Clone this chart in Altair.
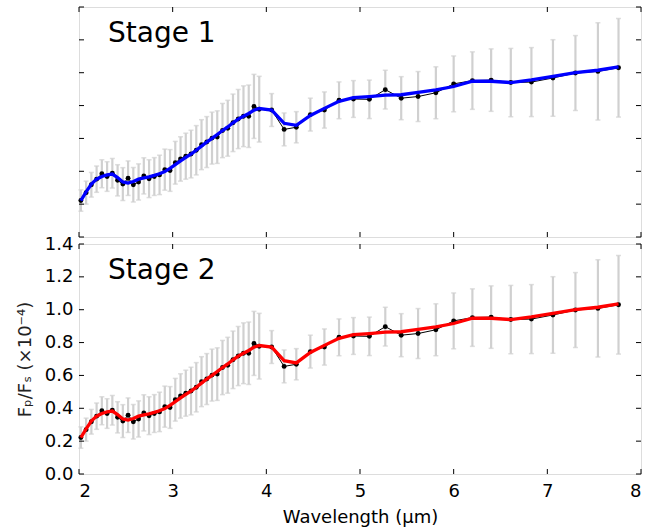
import altair as alt
import pandas as pd

# ---- data ----
wavelength = [2.020, 2.076, 2.132, 2.188, 2.244, 2.300, 2.356, 2.412, 2.468, 2.524,
              2.580, 2.636, 2.692, 2.748, 2.804, 2.860, 2.916, 2.972, 3.028, 3.084,
              3.140, 3.196, 3.252, 3.308, 3.364, 3.420, 3.476, 3.532, 3.588, 3.644,
              3.700, 3.756, 3.812, 3.868, 3.924,
              4.057, 4.190, 4.320, 4.470, 4.620, 4.776, 4.930, 5.100, 5.270, 5.440,
              5.620, 5.810, 6.000, 6.200, 6.400, 6.610, 6.830, 7.060, 7.300, 7.540, 7.760]
flux = [0.222, 0.270, 0.318, 0.352, 0.385, 0.368, 0.388, 0.345, 0.322, 0.358,
        0.318, 0.335, 0.372, 0.355, 0.368, 0.378, 0.410, 0.405, 0.452, 0.475,
        0.492, 0.505, 0.528, 0.562, 0.578, 0.602, 0.608, 0.648, 0.662, 0.695,
        0.718, 0.735, 0.735, 0.795, 0.778,
        0.773, 0.655, 0.668, 0.745, 0.773, 0.832, 0.840, 0.838, 0.897, 0.845,
        0.855, 0.878, 0.932, 0.952, 0.955, 0.940, 0.943, 0.968, 0.998, 1.008, 1.030]
flux_err = [0.065, 0.070, 0.075, 0.080, 0.085, 0.090, 0.090, 0.095, 0.100, 0.105,
            0.105, 0.110, 0.110, 0.115, 0.115, 0.120, 0.125, 0.127, 0.130, 0.135,
            0.140, 0.145, 0.150, 0.152, 0.155, 0.158, 0.160, 0.165, 0.170, 0.175,
            0.180, 0.185, 0.190, 0.195, 0.200,
            0.100, 0.100, 0.095, 0.100, 0.110, 0.112, 0.112, 0.117, 0.118, 0.131,
            0.152, 0.158, 0.170, 0.175, 0.190, 0.208, 0.210, 0.233, 0.228, 0.296, 0.300]
model_stage1 = [0.222, 0.275, 0.322, 0.352, 0.368, 0.378, 0.383, 0.362, 0.335, 0.328,
                0.338, 0.352, 0.360, 0.366, 0.375, 0.385, 0.398, 0.418, 0.440, 0.463,
                0.485, 0.505, 0.528, 0.553, 0.578, 0.600, 0.624, 0.648, 0.670, 0.695,
                0.718, 0.735, 0.752, 0.772, 0.782,
                0.772, 0.692, 0.680, 0.740, 0.783, 0.826, 0.848, 0.855, 0.863, 0.866,
                0.880, 0.896, 0.916, 0.948, 0.948, 0.940, 0.956, 0.978, 1.000, 1.015, 1.035]
model_stage2 = [0.222, 0.275, 0.322, 0.352, 0.368, 0.378, 0.383, 0.362, 0.335, 0.328,
                0.338, 0.352, 0.360, 0.366, 0.375, 0.385, 0.398, 0.418, 0.440, 0.463,
                0.485, 0.505, 0.528, 0.553, 0.578, 0.600, 0.624, 0.648, 0.670, 0.695,
                0.718, 0.735, 0.752, 0.772, 0.782,
                0.772, 0.690, 0.676, 0.740, 0.783, 0.826, 0.848, 0.855, 0.863, 0.866,
                0.880, 0.896, 0.916, 0.948, 0.948, 0.940, 0.956, 0.978, 1.000, 1.015, 1.035]
stage_labels = ["Stage 1", "Stage 2"]
model_colors = ["#0000ff", "#ff0000"]
x_ticks = [2, 3, 4, 5, 6, 7, 8]
y_ticks = [0.0, 0.2, 0.4, 0.6, 0.8, 1.0, 1.2, 1.4]
x_title = "Wavelength (μm)"
y_title = "Fₚ/Fₛ (×10⁻⁴)"
label_pos = (2.31, 1.19)

W, H = 562, 230
FONT = "DejaVu Sans"

df = pd.DataFrame({
    "wl": wavelength,
    "flux": flux,
    "lo": [f - e for f, e in zip(flux, flux_err)],
    "hi": [f + e for f, e in zip(flux, flux_err)],
    "m1": model_stage1,
    "m2": model_stage2,
})
xt = pd.DataFrame({"t": x_ticks})
yt = pd.DataFrame({"t": y_ticks})

xscale = alt.Scale(domain=[2, 8], nice=False, zero=False)
yscale = alt.Scale(domain=[0, 1.4], nice=False, zero=False)


def panel(model_col, color, label, show_labels):
    if show_labels:
        xaxis = alt.Axis(values=x_ticks, format="d", ticks=False, tickSize=0, domain=False, grid=False,
                         labelFontSize=18, labelPadding=8, labelFont=FONT,
                         labelColor="black", titleFont=FONT, titleFontSize=18, titleFontWeight="normal",
                         titleColor="black", titlePadding=8, title=x_title)
        yaxis = alt.Axis(values=y_ticks, format=".1f", ticks=False, tickSize=0, domain=False, grid=False,
                         labelFontSize=18, labelPadding=6, labelFont=FONT,
                         labelColor="black", titleFont=FONT, titleFontSize=18, titleFontWeight="normal",
                         titleColor="#222222", titlePadding=10, title=y_title)
        X = lambda f: alt.X(f, scale=xscale, axis=xaxis)
        Y = lambda f: alt.Y(f, scale=yscale, axis=yaxis)
    else:
        X = lambda f: alt.X(f, scale=xscale, axis=None)
        Y = lambda f: alt.Y(f, scale=yscale, axis=None)

    base = alt.Chart(df)
    bars = base.mark_rule(color="#d0d0d0", strokeWidth=2.2).encode(
        x=X("wl:Q"), y=Y("lo:Q"), y2="hi:Q")
    cap_lo = base.mark_tick(color="#d0d0d0", orient="horizontal", size=5, thickness=1.5).encode(
        x=X("wl:Q"), y=Y("lo:Q"))
    cap_hi = base.mark_tick(color="#d0d0d0", orient="horizontal", size=5, thickness=1.5).encode(
        x=X("wl:Q"), y=Y("hi:Q"))
    dline = base.mark_line(color="black", strokeWidth=1).encode(x=X("wl:Q"), y=Y("flux:Q"))
    dots = base.mark_circle(color="black", size=24, opacity=1).encode(x=X("wl:Q"), y=Y("flux:Q"))
    model = base.mark_line(color=color, strokeWidth=3.3).encode(x=X("wl:Q"), y=Y(f"{model_col}:Q"))

    tb = alt.Chart(xt).mark_rule(color="black", strokeWidth=1).encode(
        x=X("t:Q"), y=alt.value(H), y2=alt.value(H - 5))
    tt = alt.Chart(xt).mark_rule(color="black", strokeWidth=1).encode(
        x=X("t:Q"), y=alt.value(0), y2=alt.value(5))
    tl = alt.Chart(yt).mark_rule(color="black", strokeWidth=1).encode(
        y=Y("t:Q"), x=alt.value(0), x2=alt.value(5))
    tr = alt.Chart(yt).mark_rule(color="black", strokeWidth=1).encode(
        y=Y("t:Q"), x=alt.value(W - 5), x2=alt.value(W))

    lab = alt.Chart(pd.DataFrame({"x": [label_pos[0]], "y": [label_pos[1]], "t": [label]})).mark_text(
        align="left", baseline="alphabetic", fontSize=28, font=FONT, color="black").encode(
        x=X("x:Q"), y=Y("y:Q"), text="t:N")

    return alt.layer(bars, cap_lo, cap_hi, dline, dots, model, tb, tt, tl, tr, lab).properties(
        width=W, height=H)


top = panel("m1", model_colors[0], stage_labels[0], False)
bottom = panel("m2", model_colors[1], stage_labels[1], True)

chart = alt.vconcat(top, bottom, spacing=7, bounds="flush").properties(
    padding={"left": 15, "top": 6, "right": 7, "bottom": 4},
    background="white",
).configure_view(stroke="black", strokeWidth=1.2).configure(font=FONT)

chart.save("out.html", embed_options={"renderer": "svg", "actions": False})
